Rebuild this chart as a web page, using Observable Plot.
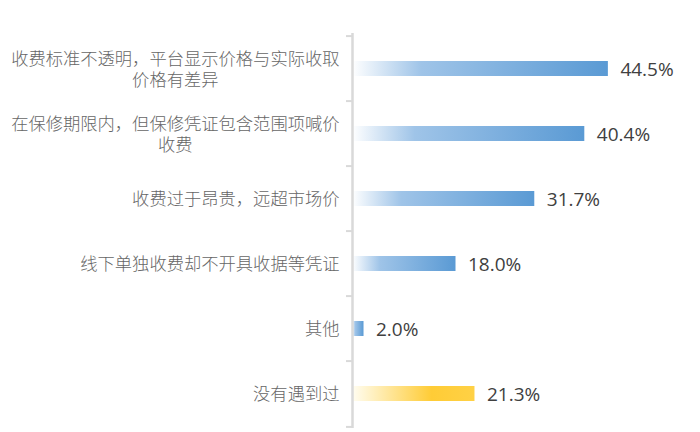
<!DOCTYPE html>
<html>
<head>
<meta charset="utf-8">
<script src="https://cdn.jsdelivr.net/npm/d3@7"></script>
<script src="https://cdn.jsdelivr.net/npm/@observablehq/plot@0.6"></script>
<style>
  html, body { margin: 0; padding: 0; background: #fff; }
  #chart { width: 700px; height: 432px; }
</style>
</head>
<body>
<div id="chart"></div>
<script>
const categories = [
  "收费标准不透明，平台显示价格与实际收取\n价格有差异",
  "在保修期限内，但保修凭证包含范围项喊价\n收费",
  "收费过于昂贵，远超市场价",
  "线下单独收费却不开具收据等凭证",
  "其他",
  "没有遇到过"
];
const values = [44.5, 40.4, 31.7, 18.0, 2.0, 21.3];
const groups = ["blue", "blue", "blue", "blue", "blue", "yellow"];

const data = categories.map((c, i) => ({cat: c, value: values[i], grad: `url(#grad-${groups[i]})`}));

const W = 700, H = 432, mTop = 33, mBottom = 4, mLeft = 352, mRight = 3;
const bw = (H - mTop - mBottom) / categories.length;
const pxPerUnit = (W - mLeft - mRight) / 60;

const labelSize = 17.3;
const canvas = document.createElement("canvas");
const ctx = canvas.getContext("2d");
ctx.font = `300 ${labelSize}px 'Noto Sans CJK SC'`;
function maxLineWidth(s) {
  return d3.max(s.split("\n"), l => ctx.measureText(l).width);
}

const labelMarks = data.map(d => Plot.text([d], {
  x: () => 0,
  y: "cat",
  text: "cat",
  textAnchor: "middle",
  lineAnchor: "middle",
  lineHeight: 1.17,
  dx: -13 - maxLineWidth(d.cat) / 2,
  fontSize: labelSize,
  fontWeight: 300,
  fontFamily: "Noto Sans CJK SC",
  fill: "#666666"
}));

const svg = Plot.plot({
  width: W,
  height: H,
  marginLeft: mLeft,
  marginRight: mRight,
  marginTop: mTop,
  marginBottom: mBottom,
  x: {domain: [0, 60], axis: null},
  y: {domain: categories, axis: null, padding: 0},
  color: {type: "identity"},
  marks: [
    Plot.barX(data, {x: "value", y: "cat", fill: "grad", insetTop: 25, insetBottom: 25}),
    Plot.ruleX([0], {stroke: "#d9d9d9", strokeWidth: 2.5}),
    Plot.ruleY(data, {y: "cat", x1: () => -6 / pxPerUnit, x2: () => 0, dy: -bw / 2, stroke: "#d9d9d9", strokeWidth: 2}),
    Plot.ruleY(data.slice(-1), {y: "cat", x1: () => -6 / pxPerUnit, x2: () => 0, dy: bw / 2, stroke: "#d9d9d9", strokeWidth: 2}),
    Plot.text(data, {
      x: "value", y: "cat",
      text: d => d.value.toFixed(1) + "%",
      textAnchor: "start", dx: 12, dy: 1,
      fontSize: 19, fontFamily: "Open Sans", fill: "#404040"
    }),
    ...labelMarks
  ]
});

const defs = d3.select(svg).insert("defs", ":first-child");
const blue = defs.append("linearGradient").attr("id", "grad-blue").attr("x1", "0").attr("x2", "1").attr("y1", "0").attr("y2", "0");
blue.append("stop").attr("offset", "0").attr("stop-color", "#ffffff");
blue.append("stop").attr("offset", "0.27").attr("stop-color", "#9fc4e8");
blue.append("stop").attr("offset", "1").attr("stop-color", "#5a9ad4");
const yellow = defs.append("linearGradient").attr("id", "grad-yellow").attr("x1", "0").attr("x2", "1").attr("y1", "0").attr("y2", "0");
yellow.append("stop").attr("offset", "0").attr("stop-color", "#fffdf2");
yellow.append("stop").attr("offset", "0.65").attr("stop-color", "#ffcc36");
yellow.append("stop").attr("offset", "1").attr("stop-color", "#ffd145");

document.getElementById("chart").appendChild(svg);
</script>
</body>
</html>
